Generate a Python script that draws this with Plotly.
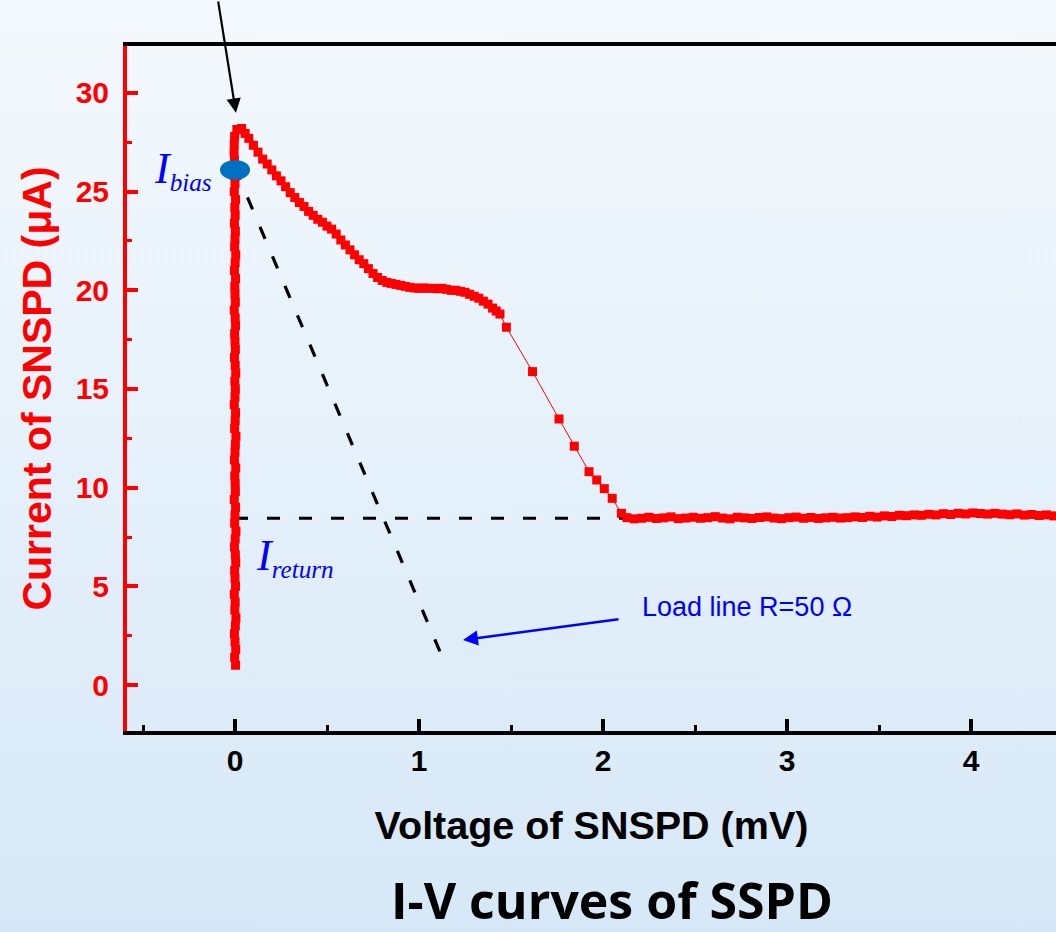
import base64
import plotly.graph_objects as go

# superconducting branch (V ~ 0)
sc_v = [0.003, -0.002, 0.004, 0.000, -0.003, 0.002, 0.005, -0.001, 0.001, -0.004,
        0.003, 0.000, -0.002, 0.004, 0.002, -0.003, 0.001, 0.005, -0.002, 0.000,
        0.003, -0.004, 0.002, 0.001, -0.001, 0.004, -0.003, 0.000, 0.002, 0.005,
        -0.002, 0.001, 0.003, -0.004, 0.000, 0.002, -0.001, 0.004, 0.001, -0.003,
        0.002, 0.000, -0.002, 0.003, 0.001, -0.004, 0.002, 0.000, -0.001, 0.003,
        -0.003, 0.001, 0.004, -0.002, 0.000, 0.002, -0.003, 0.001, -0.001, 0.003,
        -0.004, 0.000, -0.002, -0.004, -0.003, -0.005, -0.004, -0.002]
sc_i = [1.0, 1.4, 1.8, 2.2, 2.6, 3.0, 3.4, 3.8, 4.2, 4.6,
        5.0, 5.4, 5.8, 6.2, 6.6, 7.0, 7.4, 7.8, 8.2, 8.6,
        9.0, 9.4, 9.8, 10.2, 10.6, 11.0, 11.4, 11.8, 12.2, 12.6,
        13.0, 13.4, 13.8, 14.2, 14.6, 15.0, 15.4, 15.8, 16.2, 16.6,
        17.0, 17.4, 17.8, 18.2, 18.6, 19.0, 19.4, 19.8, 20.2, 20.6,
        21.0, 21.4, 21.8, 22.2, 22.6, 23.0, 23.4, 23.8, 24.2, 24.6,
        25.0, 25.4, 25.8, 26.2, 26.6, 27.0, 27.4, 27.8]

# resistive branch after switching
rs_v = [0.010, 0.036, 0.055, 0.075,
        0.100, 0.125, 0.150, 0.175, 0.200, 0.225, 0.250, 0.275, 0.300, 0.325,
        0.350, 0.375, 0.400, 0.425, 0.450, 0.475, 0.500, 0.525, 0.550, 0.575,
        0.600, 0.625, 0.650, 0.675, 0.700, 0.725, 0.750, 0.775, 0.800, 0.825,
        0.850, 0.875, 0.900, 0.925, 0.950, 0.975, 1.000, 1.025, 1.050, 1.075,
        1.100, 1.125, 1.150, 1.175, 1.200, 1.225, 1.250, 1.275, 1.300, 1.325,
        1.350, 1.375, 1.400, 1.420, 1.440, 1.475,
        1.617, 1.761, 1.844, 1.924, 1.966, 2.007, 2.050, 2.100]
rs_i = [28.15, 28.2, 27.95, 27.7,
        27.35, 27.0, 26.65, 26.4, 26.1, 25.8, 25.55, 25.25, 24.95, 24.7,
        24.45, 24.25, 24.0, 23.8, 23.6, 23.45, 23.25, 23.1, 22.85, 22.55,
        22.3, 22.05, 21.8, 21.55, 21.35, 21.1, 20.85, 20.65, 20.5, 20.4,
        20.35, 20.3, 20.25, 20.2, 20.15, 20.12, 20.1, 20.12, 20.1, 20.1,
        20.08, 20.1, 20.05, 20.0, 20.0, 19.95, 19.9, 19.8, 19.7, 19.6,
        19.45, 19.3, 19.1, 18.95, 18.8, 18.13,
        15.88, 13.48, 12.10, 10.81, 10.39, 9.95, 9.46, 8.70]

# hotspot plateau
pl_v = [2.13, 2.17, 2.21, 2.25, 2.29, 2.33, 2.37, 2.41, 2.45, 2.49,
        2.53, 2.57, 2.61, 2.65, 2.69, 2.73, 2.77, 2.81, 2.85, 2.89,
        2.93, 2.97, 3.01, 3.05, 3.09, 3.13, 3.17, 3.21, 3.25, 3.29,
        3.33, 3.37, 3.41, 3.45, 3.49, 3.53, 3.57, 3.61, 3.65, 3.69,
        3.73, 3.77, 3.81, 3.85, 3.89, 3.93, 3.97, 4.01, 4.05, 4.09,
        4.13, 4.17, 4.21, 4.25, 4.29, 4.33, 4.37, 4.41, 4.45, 4.49]
pl_i = [8.48, 8.42, 8.45, 8.50, 8.44, 8.47, 8.52, 8.43, 8.46, 8.50,
        8.45, 8.48, 8.53, 8.46, 8.42, 8.50, 8.47, 8.44, 8.49, 8.52,
        8.46, 8.43, 8.48, 8.51, 8.45, 8.49, 8.44, 8.47, 8.50, 8.46,
        8.48, 8.52, 8.49, 8.55, 8.51, 8.57, 8.54, 8.60, 8.58, 8.62,
        8.60, 8.65, 8.62, 8.68, 8.64, 8.70, 8.67, 8.72, 8.69, 8.66,
        8.70, 8.66, 8.63, 8.67, 8.61, 8.64, 8.59, 8.62, 8.57, 8.60]

load_v = [0.0, 1.15]
load_i = [26.2, 0.9]
ireturn_v = [0.0, 3.30]
ireturn_i = [8.45, 8.45]
ibias_v, ibias_i = 0.0, 26.1

iv_v = sc_v + rs_v + pl_v
iv_i = sc_i + rs_i + pl_i

FONT = "Liberation Sans"
RED = "#ff0000"
BLUE = "#0000ff"

fig = go.Figure()

fig.add_trace(go.Scatter(
    x=load_v, y=load_i, mode="lines",
    line=dict(color="black", width=3.2, dash="13px,19px"),
    showlegend=False, hoverinfo="skip"
))
fig.add_trace(go.Scatter(
    x=ireturn_v, y=ireturn_i, mode="lines",
    line=dict(color="black", width=3.2, dash="13px,19px"),
    showlegend=False, hoverinfo="skip"
))
fig.add_trace(go.Scatter(
    x=iv_v, y=iv_i, mode="lines+markers",
    line=dict(color=RED, width=1),
    marker=dict(symbol="square", size=9, color=RED, line=dict(width=0)),
    showlegend=False
))

# bias point
fig.add_shape(type="circle", xref="x", yref="y",
              xsizemode="pixel", ysizemode="pixel",
              xanchor=ibias_v, yanchor=ibias_i,
              x0=-15, x1=15, y0=-10, y1=10,
              fillcolor="#0070c0", line=dict(width=0))

# background gradient
svg = ('<svg xmlns="http://www.w3.org/2000/svg" width="10" height="100" '
       'preserveAspectRatio="none"><defs><linearGradient id="g" x1="0" y1="0" '
       'x2="0" y2="1"><stop offset="0" stop-color="#f4f9fd"/>'
       '<stop offset="1" stop-color="#d6e8f7"/></linearGradient></defs>'
       '<rect width="10" height="100" fill="url(#g)"/></svg>')
src = "data:image/svg+xml;base64," + base64.b64encode(svg.encode()).decode()

W, H = 1056, 932
ML, MR, MT, MB = 127, 0, 46, 201
pw, ph = W - ML - MR, H - MT - MB

sym_i = "<span style='font-size:44px'><i>I</i></span>"

fig.update_layout(
    images=[dict(source=src, xref="paper", yref="paper",
                 x=-ML / pw, y=1 + MT / ph, sizex=W / pw, sizey=H / ph,
                 xanchor="left", yanchor="top", sizing="stretch", layer="below")],
    annotations=[
        dict(x=0.005, y=29.0, ax=-18, ay=-113, text="", showarrow=True,
             arrowhead=2, arrowsize=1.3, arrowwidth=2.2, arrowcolor="black"),
        dict(x=1.239, y=2.28, ax=157, ay=-21, text="", showarrow=True,
             arrowhead=2, arrowsize=1.2, arrowwidth=2.5, arrowcolor=BLUE),
        dict(x=2.20, y=3.95, text="Load line R=50 Ω", showarrow=False,
             xanchor="left", yanchor="middle",
             font=dict(family=FONT, size=27, color=BLUE)),
        dict(x=-0.45, y=26.1, text=sym_i + "<sub><i>bias</i></sub>",
             showarrow=False, xanchor="left", yanchor="middle",
             font=dict(family="Liberation Serif", size=36, color=BLUE)),
        dict(x=0.103, y=6.5, text=sym_i + "<sub><i>return</i></sub>",
             showarrow=False, xanchor="left", yanchor="middle",
             font=dict(family="Liberation Serif", size=36, color=BLUE)),
    ],
    title=dict(text="I-V curves of SSPD", x=612 / W, y=1 - 901 / H,
               xanchor="center", yanchor="middle",
               font=dict(family="Open Sans", size=50, weight="bold", color="black")),
    width=W, height=H,
    margin=dict(l=ML, r=MR, t=MT, b=MB),
    paper_bgcolor="#e9f3fb",
    plot_bgcolor="rgba(0,0,0,0)",
    xaxis=dict(
        range=[-0.587, 4.462], dtick=1, tick0=0,
        ticks="inside", ticklen=12, tickwidth=3.5, tickcolor="black",
        showline=True, linecolor="black", linewidth=4, mirror=True,
        showgrid=False, zeroline=False,
        minor=dict(dtick=0.5, ticks="inside", ticklen=6, tickwidth=3,
                   tickcolor="black", showgrid=False),
        tickfont=dict(family=FONT, size=30, weight="bold", color="black"),
        title=dict(text="Voltage of SNSPD (mV)", standoff=36,
                   font=dict(family=FONT, size=39.5, weight="bold", color="black")),
    ),
    yaxis=dict(
        range=[-2.33, 32.38], dtick=5, tick0=0,
        ticks="inside", ticklen=11, tickwidth=3.5, tickcolor=RED,
        showline=True, linecolor=RED, linewidth=4,
        showgrid=False, zeroline=False,
        minor=dict(dtick=2.5, ticks="inside", ticklen=5, tickwidth=3,
                   tickcolor=RED, showgrid=False),
        tickfont=dict(family=FONT, size=30, weight="bold", color=RED),
        ticklabelstandoff=8,
        title=dict(text="Current of SNSPD (μA)", standoff=12,
                   font=dict(family=FONT, size=41, weight="bold", color=RED)),
    ),
)

fig.write_html("out.html", config={"displayModeBar": False},
               post_script="document.body.style.margin='0';")
